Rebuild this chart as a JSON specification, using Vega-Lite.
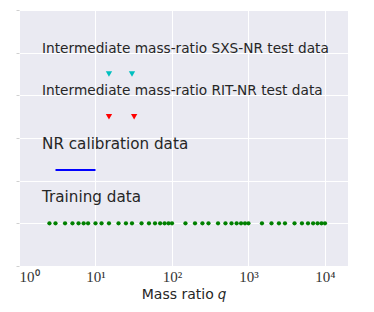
{
  "$schema": "https://vega.github.io/schema/vega-lite/v6.json",
  "width": 329,
  "height": 256,
  "autosize": {"type": "none"},
  "padding": {"left": 19, "top": 10, "right": 26, "bottom": 46},
  "background": "white",
  "config": {
    "view": {"fill": "#EAEAF2", "stroke": null},
    "axis": {"gridColor": "white", "gridWidth": 1, "gridOpacity": 1, "domain": false}
  },
  "datasets": {
    "training": [
      {"q": 2.5, "y": 1}, {"q": 3, "y": 1}, {"q": 4, "y": 1}, {"q": 5, "y": 1}, {"q": 6, "y": 1},
      {"q": 7, "y": 1}, {"q": 8, "y": 1}, {"q": 10, "y": 1}, {"q": 12, "y": 1}, {"q": 15, "y": 1},
      {"q": 20, "y": 1}, {"q": 25, "y": 1}, {"q": 30, "y": 1}, {"q": 40, "y": 1}, {"q": 50, "y": 1},
      {"q": 60, "y": 1}, {"q": 70, "y": 1}, {"q": 80, "y": 1}, {"q": 90, "y": 1}, {"q": 100, "y": 1},
      {"q": 150, "y": 1}, {"q": 200, "y": 1}, {"q": 250, "y": 1}, {"q": 300, "y": 1}, {"q": 400, "y": 1},
      {"q": 500, "y": 1}, {"q": 600, "y": 1}, {"q": 700, "y": 1}, {"q": 800, "y": 1}, {"q": 900, "y": 1},
      {"q": 1000, "y": 1}, {"q": 1500, "y": 1}, {"q": 2000, "y": 1}, {"q": 2500, "y": 1}, {"q": 3000, "y": 1},
      {"q": 4000, "y": 1}, {"q": 5000, "y": 1}, {"q": 6000, "y": 1}, {"q": 7000, "y": 1}, {"q": 8000, "y": 1},
      {"q": 9000, "y": 1}, {"q": 10000, "y": 1}
    ],
    "calib": [{"q": 3, "y": 2.25}, {"q": 10, "y": 2.25}],
    "tests": [
      {"q": 15, "y": 3.5, "set": "RIT"}, {"q": 32, "y": 3.5, "set": "RIT"},
      {"q": 15, "y": 4.5, "set": "SXS"}, {"q": 30, "y": 4.5, "set": "SXS"}
    ],
    "labels": [
      {"q": 2, "y": 1.5, "text": "Training data", "big": "yes"},
      {"q": 2, "y": 2.75, "text": "NR calibration data", "big": "yes"},
      {"q": 2, "y": 4.0, "text": "Intermediate mass-ratio RIT-NR test data", "big": "no"},
      {"q": 2, "y": 5.0, "text": "Intermediate mass-ratio SXS-NR test data", "big": "no"}
    ]
  },
  "layer": [
    {
      "data": {"name": "training"},
      "mark": {"type": "circle", "color": "#008000", "opacity": 1, "size": 18},
      "encoding": {
        "x": {
          "field": "q", "type": "quantitative",
          "scale": {"type": "log", "domain": [1, 20000], "nice": false},
          "axis": {
            "values": [1, 10, 100, 1000, 10000],
            "labelExpr": "'10' + ['⁰','¹','²','³','⁴'][round(log(datum.value)/LN10)]",
            "labelFont": "Liberation Serif", "labelFontSize": 15, "labelColor": "#333333",
            "ticks": false, "labelPadding": 3,
            "title": "Mass ratio 𝑞", "titleFont": "DejaVu Sans", "titleFontSize": 14,
            "titleFontWeight": "normal", "titleColor": "#262626", "titlePadding": 3
          }
        },
        "y": {
          "field": "y", "type": "quantitative",
          "scale": {"domain": [0, 6], "nice": false},
          "axis": {
            "values": [0, 1, 2, 3, 4, 5, 6], "labels": false, "title": null,
            "tickSize": 3, "tickColor": "#d0d0d0", "tickWidth": 1
          }
        }
      }
    },
    {
      "data": {"name": "calib"},
      "mark": {"type": "line", "color": "#0000FF", "strokeWidth": 2},
      "encoding": {
        "x": {"field": "q", "type": "quantitative"},
        "y": {"field": "y", "type": "quantitative"}
      }
    },
    {
      "data": {"name": "tests"},
      "mark": {"type": "point", "shape": "triangle-down", "filled": true, "opacity": 1, "size": 40},
      "encoding": {
        "x": {"field": "q", "type": "quantitative"},
        "y": {"field": "y", "type": "quantitative"},
        "color": {"field": "set", "type": "nominal", "scale": {"domain": ["RIT", "SXS"], "range": ["#FF0000", "#00BFBF"]}, "legend": null}
      }
    },
    {
      "data": {"name": "labels"},
      "mark": {"type": "text", "align": "left", "baseline": "alphabetic", "font": "DejaVu Sans", "color": "#262626"},
      "encoding": {
        "x": {"field": "q", "type": "quantitative"},
        "y": {"field": "y", "type": "quantitative"},
        "text": {"field": "text", "type": "nominal"},
        "size": {"field": "big", "type": "nominal", "scale": {"domain": ["yes", "no"], "range": [15.2, 13.7]}, "legend": null}
      }
    }
  ]
}
